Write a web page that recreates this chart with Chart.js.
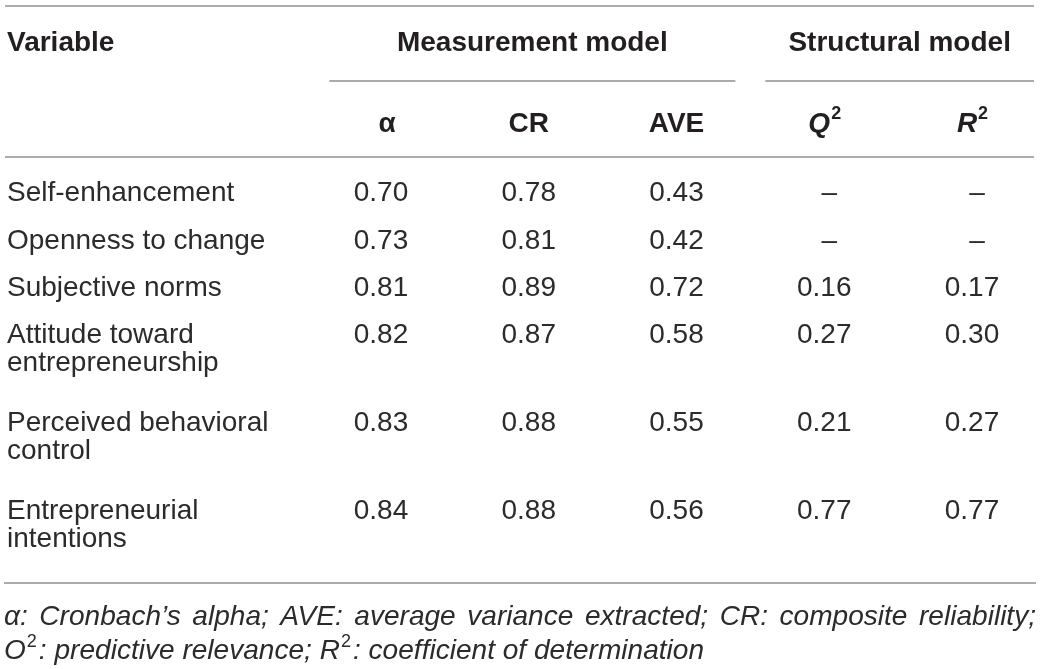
<!DOCTYPE html>
<html lang="en">
<head>
  <meta charset="UTF-8">
  <title>Reliability and model quality</title>
  <style>
    html, body {
      margin: 0;
      background: #fff;
    }
    #wrap {
      width: 1040px;
      height: 669px;
      position: relative;
    }
  </style>
</head>
<body>
  <div id="wrap"><canvas id="chart"></canvas></div>

  <script src="https://cdn.jsdelivr.net/npm/chart.js"></script>
  <script>
    // table content
    const variables = [
      'Self-enhancement',
      'Openness to change',
      'Subjective norms',
      'Attitude toward\nentrepreneurship',
      'Perceived behavioral\ncontrol',
      'Entrepreneurial\nintentions'
    ];
    const columns = ['α', 'CR', 'AVE', 'Q2', 'R2'];
    const alpha = [0.70, 0.73, 0.81, 0.82, 0.83, 0.84];
    const cr    = [0.78, 0.81, 0.89, 0.87, 0.88, 0.88];
    const ave   = [0.43, 0.42, 0.72, 0.58, 0.55, 0.56];
    const q2    = [null, null, 0.16, 0.27, 0.21, 0.77];
    const r2    = [null, null, 0.17, 0.30, 0.27, 0.77];
    const groupLabels = ['Measurement model', 'Structural model'];
    const groupCols = [[0, 2], [3, 4]];
    const noteLine1 = 'α: Cronbach’s alpha; AVE: average variance extracted; CR: composite reliability;';
    const noteLine2 = [['O', true], [': predictive relevance; ', false], ['R', true], [': coefficient of determination', false]];

    const TEXT = '#231f20';
    const BODY = '#2c2a2b';
    const RULE = '#8f8f8f';
    const SANS = '"Liberation Sans", Arial, sans-serif';
    const NOTE_FONT = 'italic 28px ' + SANS;
    const NOTE_SUP = '18px ' + SANS;

    // row positions in "row units" (two-line labels take a taller row)
    const rowStart = [];
    let acc = 0;
    variables.forEach(v => {
      rowStart.push(acc);
      acc += 1 + 0.86 * (v.split('\n').length - 1);
    });

    const cols = [alpha, cr, ave, q2, r2];
    const datasets = variables.map((v, i) => ({
      label: v,
      data: columns.map(() => rowStart[i] + 0.5),
      cells: cols.map(c => c[i]),
      showLine: false,
      pointRadius: 0
    }));

    function fmt(v) {
      return v == null ? '–' : v.toFixed(2);
    }

    // base text with a raised "2", centred on x
    function supText(ctx, base, x, y, baseFont, supFont) {
      ctx.font = baseFont;
      const w1 = ctx.measureText(base).width;
      ctx.font = supFont;
      const w2 = ctx.measureText('2').width;
      const left = x - (w1 + w2) / 2;
      ctx.textAlign = 'left';
      ctx.font = baseFont;
      ctx.fillText(base, left, y);
      ctx.font = supFont;
      ctx.fillText('2', left + w1 + 1, y - 10);
    }

    function hline(ctx, x1, x2, y) {
      ctx.beginPath();
      ctx.moveTo(x1, y);
      ctx.lineTo(x2, y);
      ctx.stroke();
    }

    // width of the second note line at natural width
    function noteWidth(ctx) {
      let w = 0;
      noteLine2.forEach(p => {
        ctx.font = NOTE_FONT;
        w += ctx.measureText(p[0]).width;
        if (p[1]) {
          ctx.font = NOTE_SUP;
          w += ctx.measureText('2').width + 3;
        }
      });
      return w;
    }

    const tablePlugin = {
      id: 'table',
      afterDraw(chart) {
        const ctx = chart.ctx;
        const xs = chart.scales.x;
        const ys = chart.scales.y;
        const area = chart.chartArea;
        const W = chart.width;
        ctx.save();

        // rules
        ctx.strokeStyle = RULE;
        ctx.lineWidth = 1.5;
        hline(ctx, 5, W - 6, 6);
        hline(ctx, 5, W - 6, 157);
        hline(ctx, 4, W - 4, area.bottom);
        const step = xs.getPixelForValue(1) - xs.getPixelForValue(0);
        const split = (xs.getPixelForValue(groupCols[0][1]) + xs.getPixelForValue(groupCols[1][0])) / 2;
        const spans = [
          [xs.getPixelForValue(groupCols[0][0]) - 0.35 * step, split - 15],
          [split + 15, W - 6]
        ];
        spans.forEach(s => hline(ctx, s[0], s[1], 81));

        // header
        ctx.fillStyle = TEXT;
        ctx.textBaseline = 'middle';
        ctx.font = 'bold 28px ' + SANS;
        ctx.textAlign = 'left';
        ctx.fillText('Variable', 7, 43);
        ctx.textAlign = 'center';
        groupLabels.forEach((g, i) => ctx.fillText(g, (spans[i][0] + spans[i][1]) / 2, 43));

        columns.forEach((c, j) => {
          const x = xs.getPixelForValue(j);
          ctx.textAlign = 'center';
          if (c.endsWith('2')) {
            supText(ctx, c[0], x, 124, 'italic bold 28px ' + SANS, 'bold 18px ' + SANS);
          } else {
            ctx.font = 'bold 28px ' + SANS;
            ctx.fillText(c, x + (j === 0 ? 6 : 0), 124);
          }
        });

        // body
        ctx.fillStyle = BODY;
        ctx.font = '28px ' + SANS;
        chart.data.datasets.forEach((ds, i) => {
          const meta = chart.getDatasetMeta(i);
          const lines = ds.label.split('\n');
          const y0 = meta.data[0].y;
          const lh = ys.getPixelForValue(0.59) - ys.getPixelForValue(0);
          ctx.textAlign = 'left';
          lines.forEach((l, k) => ctx.fillText(l, 7, y0 + k * lh));
          ctx.textAlign = 'center';
          meta.data.forEach((pt, j) => ctx.fillText(fmt(ds.cells[j]), pt.x + (ds.cells[j] == null ? 5 : 0), pt.y));
        });

        // footnote: condensed italic, first line justified to the table width
        const sx = 700 / noteWidth(ctx);
        ctx.textAlign = 'left';
        ctx.font = NOTE_FONT;
        const words = noteLine1.split(' ');
        const widths = words.map(w => ctx.measureText(w).width * sx);
        const total = widths.reduce((a, b) => a + b, 0);
        const gap = (W - 8 - total) / (words.length - 1);
        let x = 4;
        words.forEach((w, k) => {
          ctx.save();
          ctx.translate(x, 617);
          ctx.scale(sx, 1);
          ctx.fillText(w, 0, 0);
          ctx.restore();
          x += widths[k] + gap;
        });
        ctx.save();
        ctx.translate(4, 651);
        ctx.scale(sx, 1);
        x = 0;
        noteLine2.forEach(p => {
          ctx.font = NOTE_FONT;
          ctx.fillText(p[0], x, 0);
          x += ctx.measureText(p[0]).width;
          if (p[1]) {
            ctx.font = NOTE_SUP;
            ctx.fillText('2', x + 1, -9);
            x += ctx.measureText('2').width + 3;
          }
        });
        ctx.restore();

        ctx.restore();
      }
    };

    const ctx = document.getElementById('chart').getContext('2d');
    const chart = new Chart(ctx, {
      type: 'line',
      data: {
        labels: columns,
        datasets: datasets
      },
      options: {
        responsive: true,
        maintainAspectRatio: false,
        animation: false,
        events: [],
        layout: {
          padding: { left: 381, right: 68, top: 170, bottom: 86 }
        },
        plugins: {
          legend: { display: false },
          tooltip: { enabled: false }
        },
        scales: {
          x: { type: 'category', offset: false, display: false },
          y: { type: 'linear', reverse: true, min: 0, max: acc + 0.15, display: false }
        }
      },
      plugins: [tablePlugin]
    });
  </script>
</body>
</html>
